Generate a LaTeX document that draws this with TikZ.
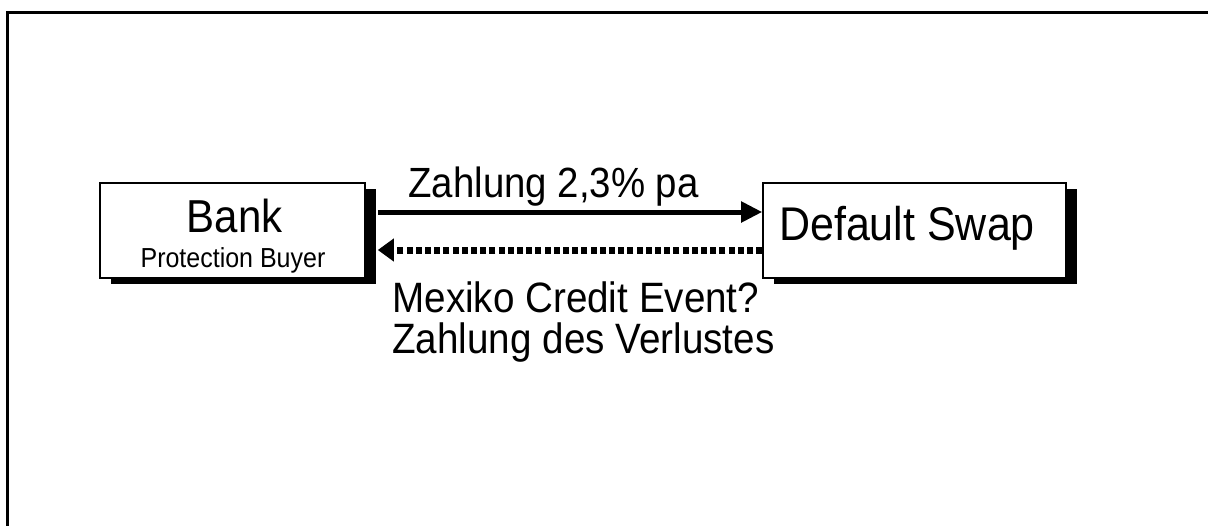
\documentclass[tikz,border=0pt]{standalone}
\usepackage{fontspec}
\setmainfont{Liberation Sans}
\usetikzlibrary{arrows.meta,shadows}

\begin{document}
\begin{tikzpicture}[x=0.5pt,y=-0.5pt,
    party/.style={draw,line width=0.8pt,fill=white,inner sep=0pt,minimum height=47.5pt,
      drop shadow={shadow xshift=5.5pt,shadow yshift=-3pt,fill=black,opacity=1}},
    tall/.style={yscale=1.1,transform shape},
    flow/.style={line width=2.5pt,-{Triangle[length=10.5pt,width=10pt]}},
    refund/.style={line width=3.5pt,dash pattern=on 3pt off 1.6pt,-{Triangle[length=8pt,width=11pt]}}]
    \useasboundingbox (0,0) rectangle (1208,525);
    % frame
    \draw[line width=1.5pt] (7.5,530) |- (1215,12);
    % the two parties
    \node[party,minimum width=132.5pt] (bank) at (232.5,230.5) {};
    \node[party,minimum width=151.5pt] (swap) at (914.5,230.5) {};
    \node[tall,anchor=base,font=\fontsize{21}{25}\selectfont] (banklabel) at (234.5,232) {Bank};
    \node[tall,anchor=base,font=\fontsize{12.5}{15}\selectfont] (buyerlabel) at (233,267) {Protection Buyer};
    \node[tall,anchor=base,font=\fontsize{21.5}{25}\selectfont] (swaplabel) at (907,240) {Default Swap};
    % payments
    \draw[flow] ([shift={(12,-18.5)}]bank.east) -- ([shift={(0,-18.5)}]swap.west);
    \draw[refund] ([shift={(0,19.5)}]swap.west) -- ([shift={(12,19.5)}]bank.east);
    \node[tall,anchor=base west,inner sep=0pt,font=\fontsize{19.2}{24}\selectfont] (premium) at (408,197) {Zahlung 2,3\% pa};
    \node[tall,anchor=north west,inner sep=0pt,align=left,font=\fontsize{19.3}{18.6}\selectfont] (event) at (392,281)
        {Mexiko Credit Event?\\Zahlung des Verlustes};
\end{tikzpicture}
\end{document}
